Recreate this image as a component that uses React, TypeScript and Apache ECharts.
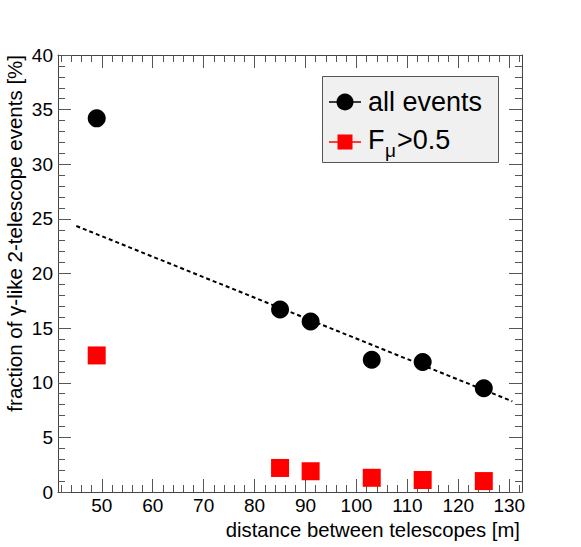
import React, { useEffect, useRef } from "react";
import * as echarts from "echarts";

const distances = [49, 85, 91, 103, 113, 125];
const allEvents = [34.2, 16.7, 15.6, 12.1, 11.9, 9.5];
const muonEvents = [12.5, 2.2, 1.9, 1.3, 1.1, 1.0];
const fitX = [45, 130.6];
const fitY = [24.35, 8.3];
const xMajorTicks = [50, 60, 70, 80, 90, 100, 110, 120, 130];
const xMinorTicks = [42, 44, 46, 48, 52, 54, 56, 58, 62, 64, 66, 68, 72, 74, 76, 78, 82, 84, 86, 88, 92, 94, 96, 98, 102, 104, 106, 108, 112, 114, 116, 118, 122, 124, 126, 128, 132];

const FONT = "Liberation Sans, Helvetica, Arial, sans-serif";
const X_MIN = 41.4;
const X_MAX = 132.5;
const AXIS_COLOR = "#444";
const TICK_COLOR = "#555";

export default function App() {
  const ref = useRef<HTMLDivElement>(null);
  useEffect(() => {
    if (!ref.current) return;
    const chart = echarts.init(ref.current, null, { renderer: "svg" });
    const tickStyle = { color: TICK_COLOR, width: 1 };
    const xBase = (position: string, major: boolean, labels: boolean) => ({
      type: "value",
      min: X_MIN,
      max: X_MAX,
      position,
      axisLine: { show: major, onZero: false, lineStyle: { color: AXIS_COLOR, width: 1 } },
      axisTick: {
        show: true,
        inside: true,
        length: major ? 13 : 7,
        customValues: major ? xMajorTicks : xMinorTicks,
        lineStyle: tickStyle,
      },
      axisLabel: labels
        ? { show: true, customValues: xMajorTicks, fontSize: 19, color: "#000", fontFamily: FONT, margin: 4 }
        : { show: false },
      splitLine: { show: false },
    });
    const yBase = (position: string, labels: boolean) => ({
      type: "value",
      min: 0,
      max: 40,
      interval: 5,
      position,
      axisLine: { show: true, onZero: false, lineStyle: { color: AXIS_COLOR, width: 1 } },
      axisTick: { show: true, inside: true, length: 13, lineStyle: tickStyle },
      minorTick: { show: true, splitNumber: 5, length: 7, lineStyle: tickStyle },
      axisLabel: labels
        ? { show: true, fontSize: 19, color: "#000", fontFamily: FONT, margin: 5 }
        : { show: false },
      splitLine: { show: false },
      minorSplitLine: { show: false },
    });

    chart.setOption({
      animation: false,
      backgroundColor: "#fff",
      grid: { left: 58, top: 55, width: 464, height: 437, containLabel: false },
      xAxis: [
        xBase("bottom", true, true),
        xBase("bottom", false, false),
        xBase("top", true, false),
        xBase("top", false, false),
      ],
      yAxis: [yBase("left", true), yBase("right", false)],
      series: [
        {
          type: "line",
          data: fitX.map((x, i) => [x, fitY[i]]),
          symbol: "none",
          lineStyle: { color: "#000", width: 2, type: [4, 3] },
          z: 1,
        },
        {
          type: "scatter",
          data: distances.map((x, i) => [x, allEvents[i]]),
          symbol: "circle",
          symbolSize: 18,
          itemStyle: { color: "#000", opacity: 1 },
          z: 3,
        },
        {
          type: "scatter",
          data: distances.map((x, i) => [x, muonEvents[i]]),
          symbol: "rect",
          symbolSize: 18,
          itemStyle: { color: "#ff0000", opacity: 1 },
          z: 3,
        },
      ],
      graphic: [
        {
          type: "text",
          x: 14,
          y: 55,
          rotation: Math.PI / 2,
          style: {
            text: "fraction of γ-like 2-telescope events [%]",
            fontSize: 20.5,
            fontFamily: FONT,
            fill: "#000",
            align: "right",
            verticalAlign: "middle",
          },
        },
        {
          type: "text",
          x: 520,
          y: 530,
          style: {
            text: "distance between telescopes [m]",
            fontSize: 20.3,
            fontFamily: FONT,
            fill: "#000",
            align: "right",
            verticalAlign: "middle",
          },
        },
        {
          type: "rect",
          shape: { x: 322.5, y: 76.5, width: 176, height: 86 },
          style: { fill: "#f0f0f0", stroke: "#555", lineWidth: 1 },
          z: 10,
        },
        {
          type: "line",
          shape: { x1: 329, y1: 102, x2: 361, y2: 102 },
          style: { stroke: "#000", lineWidth: 1.5 },
          z: 11,
        },
        {
          type: "circle",
          shape: { cx: 345, cy: 102, r: 8.5 },
          style: { fill: "#000" },
          z: 11,
        },
        {
          type: "text",
          x: 368,
          y: 102,
          style: { text: "all events", fontSize: 27, fontFamily: FONT, fill: "#000", align: "left", verticalAlign: "middle" },
          z: 11,
        },
        {
          type: "line",
          shape: { x1: 329, y1: 142, x2: 361, y2: 142 },
          style: { stroke: "#ff0000", lineWidth: 1.5 },
          z: 11,
        },
        {
          type: "rect",
          shape: { x: 337.5, y: 134.5, width: 15, height: 15 },
          style: { fill: "#ff0000" },
          z: 11,
        },
        {
          type: "text",
          x: 368,
          y: 140,
          style: { text: "F", fontSize: 27, fontFamily: FONT, fill: "#000", align: "left", verticalAlign: "middle" },
          z: 11,
        },
        {
          type: "text",
          x: 385,
          y: 150,
          style: { text: "μ", fontSize: 19, fontFamily: FONT, fill: "#000", align: "left", verticalAlign: "middle" },
          z: 11,
        },
        {
          type: "text",
          x: 397,
          y: 140,
          style: { text: ">0.5", fontSize: 27, fontFamily: FONT, fill: "#000", align: "left", verticalAlign: "middle" },
          z: 11,
        },
      ],
    });
    return () => chart.dispose();
  }, []);
  return (
    <div
      ref={ref}
      style={{ position: "fixed", left: 0, top: 0, width: 581, height: 547, background: "#fff" }}
    />
  );
}
